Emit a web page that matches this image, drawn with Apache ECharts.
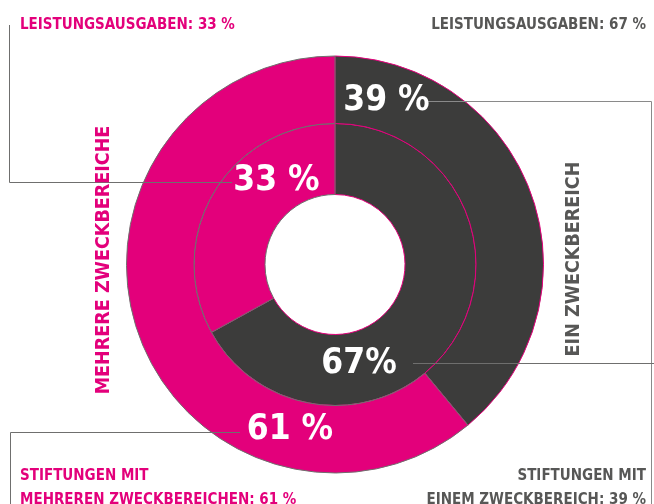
<!DOCTYPE html>
<html>
<head>
<meta charset="utf-8">
<script src="https://cdn.jsdelivr.net/npm/echarts@6/dist/echarts.min.js"></script>
<style>
  html, body { margin: 0; padding: 0; background: #fff; }
  #chart { width: 654px; height: 504px; }
</style>
</head>
<body>
<div id="chart"></div>
<script>
// Daten: Stiftungen (außen) und Leistungsausgaben (innen)
const categories = ['EIN ZWECKBEREICH', 'MEHRERE ZWECKBEREICHE']
const stiftungenValues = [39, 61]   // äußerer Ring
const ausgabenValues = [67, 33]     // innerer Ring

const DARK = '#3c3c3b'
const PINK = '#e3007b'
const GREY_TEXT = '#575756'
const LINE = '#6f6f6e'
const colors = [DARK, PINK]
const borders = [PINK, '#6f6f6e']

const condensed = '"DejaVu Sans Condensed", "Liberation Sans Narrow", sans-serif'
const bigFont = 'bold 35px ' + condensed
const smallFont = 'bold 15px ' + condensed
const sideFont = 'bold 19.5px ' + condensed

const chart = echarts.init(document.getElementById('chart'), null, { renderer: 'canvas' })

function ringData (values) {
  return values.map((v, i) => ({
    name: categories[i],
    value: v,
    itemStyle: { color: colors[i], borderColor: borders[i], borderWidth: 1 }
  }))
}

function textEl (text, x, y, font, fill, align, rotation) {
  return {
    type: 'text',
    x: x,
    y: y,
    rotation: rotation || 0,
    silent: true,
    z: 100,
    style: { text: text, font: font, fill: fill, textAlign: align || 'center', textVerticalAlign: 'middle' }
  }
}

function lineEl (points, color) {
  return {
    type: 'polyline',
    silent: true,
    z: 90,
    shape: { points: points },
    style: { stroke: color || LINE, lineWidth: 1, fill: null }
  }
}

const option = {
  animation: false,
  series: [
    {
      type: 'pie',
      center: [335, 264.5],
      radius: [70, 141],
      startAngle: 90,
      clockwise: true,
      silent: true,
      label: { show: false },
      labelLine: { show: false },
      data: ringData(ausgabenValues)
    },
    {
      type: 'pie',
      center: [335, 264.5],
      radius: [141, 208.5],
      startAngle: 90,
      clockwise: true,
      silent: true,
      label: { show: false },
      labelLine: { show: false },
      data: ringData(stiftungenValues)
    }
  ],
  graphic: [
    // Hinweislinien
    lineEl([[9.5, 25], [9.5, 182.5], [232, 182.5]]),
    lineEl([[428, 101.5], [651.5, 101.5], [651.5, 504]], '#8a8a8a'),
    lineEl([[413, 363.5], [654, 363.5]]),
    lineEl([[240, 432.5], [10.5, 432.5], [10.5, 504]]),
    // Prozentwerte im Ring
    textEl(stiftungenValues[0] + ' %', 386.5, 101, bigFont, '#fff'),
    textEl(ausgabenValues[1] + ' %', 276.5, 181, bigFont, '#fff'),
    textEl(ausgabenValues[0] + '%', 359, 364, bigFont, '#fff'),
    textEl(stiftungenValues[1] + ' %', 290, 429.5, bigFont, '#fff'),
    // Beschriftungen
    textEl('LEISTUNGSAUSGABEN: ' + ausgabenValues[1] + ' %', 20, 25.5, smallFont, PINK, 'left'),
    textEl('LEISTUNGSAUSGABEN: ' + ausgabenValues[0] + ' %', 646, 25.5, smallFont, GREY_TEXT, 'right'),
    textEl('STIFTUNGEN MIT', 20, 476.5, smallFont, PINK, 'left'),
    textEl('MEHREREN ZWECKBEREICHEN: ' + stiftungenValues[1] + ' %', 20, 500, smallFont, PINK, 'left'),
    textEl('STIFTUNGEN MIT', 646, 476.5, smallFont, GREY_TEXT, 'right'),
    textEl('EINEM ZWECKBEREICH: ' + stiftungenValues[0] + ' %', 646, 500, smallFont, GREY_TEXT, 'right'),
    // seitliche Beschriftungen
    textEl('MEHRERE ZWECKBEREICHE', 104, 260, sideFont, PINK, 'center', Math.PI / 2),
    textEl('EIN ZWECKBEREICH', 574, 259, sideFont, GREY_TEXT, 'center', Math.PI / 2)
  ]
}

chart.setOption(option)
</script>
</body>
</html>
